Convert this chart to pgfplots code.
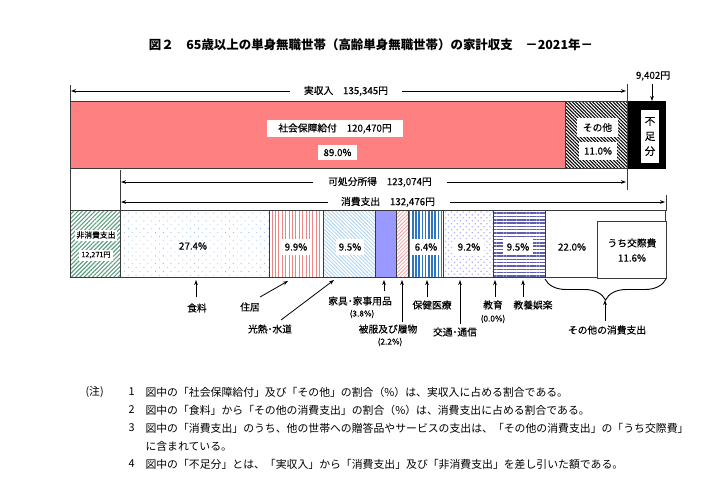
\documentclass[border=0pt]{standalone}
\usepackage{fontspec}
\setmainfont{Noto Sans CJK JP}
\newfontfamily\medfont{Noto Sans CJK JP}[FakeBold=0.35]
\usepackage{pgfplots}
\pgfplotsset{compat=1.18}
\usetikzlibrary{patterns.meta,arrows.meta,decorations.pathreplacing}

\definecolor{ssred}{HTML}{FF8080}
\definecolor{bord}{HTML}{3A3A3A}
\definecolor{nongreen}{HTML}{5E9F80}
\definecolor{foodblue}{HTML}{8FBEE8}
\definecolor{housered}{HTML}{F08585}
\definecolor{utilblue}{HTML}{A8D0F0}
\definecolor{furnblue}{HTML}{9999FF}
\definecolor{clothpink}{HTML}{F4A0A0}
\definecolor{healthblue}{HTML}{2F75C4}
\definecolor{transblue}{HTML}{B0B6F0}
\definecolor{recnavy}{HTML}{5E5EB0}

\newcommand{\lab}{\medfont\fontsize{9.8}{11}\selectfont}
\newcommand{\sml}{\medfont\fontsize{8.3}{10}\selectfont}
\newcommand{\note}{\fontsize{10.9}{13}\selectfont}

\pgfplotsset{base/.style={at={(0,0)},anchor=south west,width=725bp,height=497bp,
  scale only axis,axis lines=none,ymin=0,ymax=497,y dir=reverse,clip=false},
  seg/.style={draw=bord,line width=1bp}}

\begin{document}
\begin{tikzpicture}[>={Stealth[length=5bp,width=3.6bp]}]

% ---------- top row: income (yen) ----------
\begin{axis}[base,xmin=-17009,xmax=159158,xbar stacked,bar width=67]
\addplot[seg,fill=ssred] coordinates {(120470,135.5)};   % social security
\addplot[seg,pattern={Lines[angle=-45,distance=2.4bp,line width=1.05bp]},pattern color=black] coordinates {(14875,135.5)}; % other income
\addplot[seg,fill=black,draw=black] coordinates {(9402,135.5)};  % deficit
\end{axis}

% ---------- bottom row: expenditure (yen) ----------
\begin{axis}[base,xmin=-17009,xmax=159158,xbar stacked,bar width=67]
\addplot[seg,pattern={Lines[angle=45,distance=3bp,line width=1.1bp]},pattern color=nongreen] coordinates {(12271,244.5)}; % non-consumption
\addplot[seg,pattern={Dots[distance=5.5bp,radius=0.6bp,angle=45]},pattern color=foodblue] coordinates {(36298,244.5)}; % food 27.4
\addplot[seg,pattern={Lines[angle=90,distance=3.4bp,line width=0.9bp]},pattern color=housered] coordinates {(13115,244.5)}; % housing 9.9
\addplot[seg,pattern={Lines[angle=-45,distance=2.6bp,line width=0.8bp]},pattern color=utilblue] coordinates {(12585,244.5)}; % utilities 9.5
\addplot[seg,fill=furnblue] coordinates {(5034,244.5)}; % furniture 3.8
\addplot[seg,pattern={Lines[angle=45,distance=2.6bp,line width=0.8bp]},pattern color=clothpink] coordinates {(2914,244.5)}; % clothing 2.2
\addplot[seg,pattern={Lines[angle=90,distance=3.2bp,line width=1.7bp]},pattern color=healthblue] coordinates {(8478,244.5)}; % health 6.4
\addplot[seg,pattern={Dots[distance=4.2bp,radius=0.9bp,angle=45]},pattern color=transblue] coordinates {(12188,244.5)}; % transport 9.2
\addplot[seg] coordinates {(0,244.5)}; % education 0.0
\addplot[seg,pattern={Lines[angle=0,distance=3.3bp,line width=1.5bp]},pattern color=recnavy] coordinates {(12585,244.5)}; % recreation 9.5
\addplot[seg,fill=white] coordinates {(29278,244.5)}; % other consumption 22.0
\end{axis}

% ---------- annotations (pixel units) ----------
\begin{axis}[base,xmin=0,xmax=725]
\path (0,0) rectangle (725,497);

% title
\node[font=\fontsize{12.5}{14}\selectfont\bfseries] at (371,45)
  {図２　65歳以上の単身無職世帯（高齢単身無職世帯）の家計収支　－2021年－};

% frame lines
\draw[bord,line width=1bp] (70,85) -- (70,211);
\draw[bord,line width=1bp] (120,170) -- (120,211);
\draw[bord,line width=1bp] (627,84) -- (627,190);
\draw[bord,line width=1bp] (666,195) -- (666,211);

% brackets with arrows
\node[font=\lab] at (346,91) {実収入　135,345円};
\draw[->,line width=0.8bp] (290,91) -- (71,91);
\draw[->,line width=0.8bp] (402,91) -- (626,91);
\node[font=\lab] at (380,182) {可処分所得　123,074円};
\draw[->,line width=0.8bp] (313,182) -- (121,182);
\draw[->,line width=0.8bp] (447,182) -- (626,182);
\node[font=\lab] at (388,202) {消費支出　132,476円};
\draw[->,line width=0.8bp] (328,202) -- (121,202);
\draw[->,line width=0.8bp] (450,202) -- (665,202);
\node[font=\lab] at (653,76) {9,402円};
\draw[->,line width=0.8bp] (652,84) -- (652,101);

% labels in top bar
\node[font=\lab,fill=white,minimum width=136bp,minimum height=17bp,inner sep=0] at (335,128.5) {社会保障給付　120,470円};
\node[font=\lab,fill=white,minimum width=39bp,minimum height=15bp,inner sep=0] at (337.5,152.5) {89.0\%};
\node[font=\lab,fill=white,minimum width=41bp,minimum height=19bp,inner sep=0] at (597.5,127.5) {その他};
\node[font=\lab,fill=white,minimum width=38bp,minimum height=18bp,inner sep=0] at (598,151) {11.0\%};
\node[font=\medfont\fontsize{10.5}{15}\selectfont,fill=white,minimum width=18bp,minimum height=53bp,inner sep=0,align=center] at (650,136.5) {不\\足\\分};

% labels in bottom bar
\node[font=\medfont\fontsize{7.8}{9}\selectfont,fill=white,minimum width=42bp,minimum height=11bp,inner sep=0] at (96,235) {非消費支出};
\node[font=\medfont\fontsize{7.2}{9}\selectfont,fill=white,minimum width=34bp,minimum height=11bp,inner sep=0] at (96,255) {12,271円};
\node[font=\lab] at (193,246) {27.4\%};
\node[font=\lab,fill=white,minimum width=28bp,minimum height=16bp,inner sep=0] at (296,247) {9.9\%};
\node[font=\lab,fill=white,minimum width=28bp,minimum height=16bp,inner sep=0] at (350,247) {9.5\%};
\node[font=\lab,fill=white,minimum width=28bp,minimum height=16bp,inner sep=0] at (426,247) {6.4\%};
\node[font=\lab,fill=white,minimum width=30bp,minimum height=16bp,inner sep=0] at (469,247) {9.2\%};
\node[font=\lab,fill=white,minimum width=30bp,minimum height=16bp,inner sep=0] at (518,247) {9.5\%};
\node[font=\lab] at (572,247) {22.0\%};
\draw[bord,line width=1bp,fill=white] (597,221) rectangle (666,278);
\node[font=\lab] at (632,243) {うち交際費};
\node[font=\lab] at (632,258) {11.6\%};

% category labels below
\node[font=\lab] at (197,308) {食料};
\draw[->,line width=0.8bp] (196,297) -- (196,280);
\node[font=\lab] at (250,307) {住居};
\draw[->,line width=0.8bp] (260,297) -- (288,281);
\node[font=\lab] at (270,329) {光熱･水道};
\draw[->,line width=0.8bp] (281,320) -- (334,280);
\node[font=\lab] at (360,301) {家具･家事用品};
\node[font=\sml] at (362,314) {(3.8\%)};
\draw[->,line width=0.8bp] (384,291) -- (384,280);
\node[font=\lab] at (388,329) {被服及び履物};
\node[font=\sml] at (390,342) {(2.2\%)};
\draw[->,line width=0.8bp] (402,322) -- (402,280);
\node[font=\lab] at (432,305) {保健医療};
\draw[->,line width=0.8bp] (427,297) -- (427,280);
\node[font=\lab] at (455,332) {交通･通信};
\draw[->,line width=0.8bp] (460,324) -- (460,280);
\node[font=\lab] at (493,305) {教育};
\node[font=\sml] at (493,319) {(0.0\%)};
\draw[->,line width=0.8bp] (495,297) -- (495,280);
\node[font=\lab] at (533,305) {教養娯楽};
\draw[->,line width=0.8bp] (523,297) -- (523,280);
\draw[line width=0.9bp,decorate,decoration={brace,mirror,amplitude=21bp,aspect=0.5}] (545,279) -- (666,279);
\node[font=\lab] at (607,330) {その他の消費支出};
\draw[->,line width=0.8bp] (605,321) -- (605,300);

% notes
\node[font=\note,anchor=west] at (82,392) {(注)};
\node[font=\note,anchor=west] at (125,392) {1};
\node[font=\note,anchor=west] at (142,392) {図中の「社会保障給付」及び「その他」の割合（\%）は、実収入に占める割合である。};
\node[font=\note,anchor=west] at (125,410) {2};
\node[font=\note,anchor=west] at (142,410) {図中の「食料」から「その他の消費支出」の割合（\%）は、消費支出に占める割合である。};
\node[font=\note,anchor=west] at (125,428) {3};
\node[font=\note,anchor=west] at (142,428) {図中の「消費支出」のうち、他の世帯への贈答品やサービスの支出は、「その他の消費支出」の「うち交際費」};
\node[font=\note,anchor=west] at (142,446) {に含まれている。};
\node[font=\note,anchor=west] at (125,464) {4};
\node[font=\note,anchor=west] at (142,464) {図中の「不足分」とは、「実収入」から「消費支出」及び「非消費支出」を差し引いた額である。};
\end{axis}
\end{tikzpicture}
\end{document}
